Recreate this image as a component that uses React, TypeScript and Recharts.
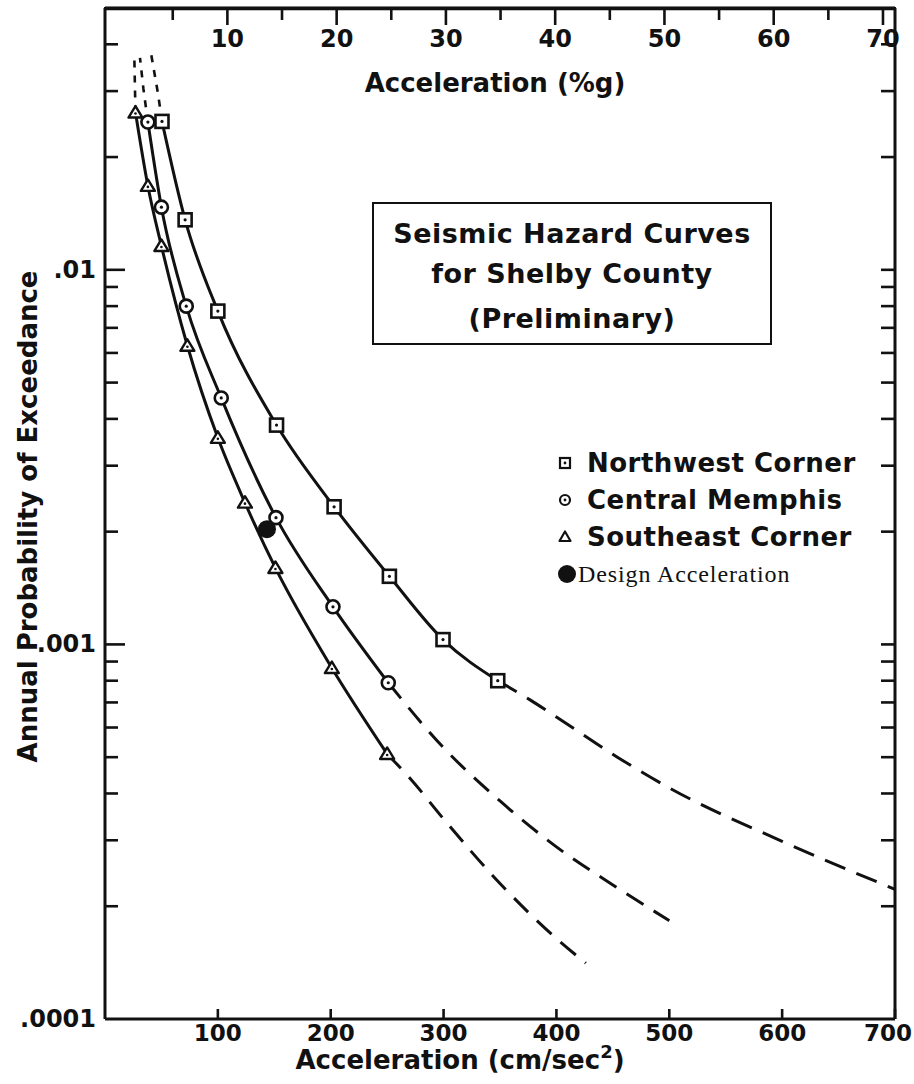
import React from 'react';
import { ComposedChart, Line, Scatter, XAxis, YAxis, Legend, Label, ReferenceLine } from 'recharts';

// ---------- data ----------
const nwX = [50.5, 71, 100, 152, 203, 252, 299.5, 348];
const nwY = [0.0249, 0.0136, 0.00776, 0.00385, 0.00233, 0.00152, 0.00103, 0.0008];
const nwDashX = [348, 377, 400, 454, 500, 600, 700];
const nwDashY = [0.0008, 0.00071, 0.00064, 0.0005, 0.000414, 0.000298, 0.000222];
const nwTopX = [50.5, 47, 41];
const nwTopY = [0.0249, 0.0295, 0.0375];

const cmX = [38, 50, 72, 103, 151.5, 202, 251];
const cmY = [0.0248, 0.0147, 0.008, 0.00455, 0.00218, 0.00126, 0.00079];
const cmDashX = [251, 300, 350, 400, 450, 500];
const cmDashY = [0.00079, 0.00053, 0.000382, 0.000288, 0.000228, 0.000183];
const cmTopX = [38, 34, 31];
const cmTopY = [0.0248, 0.0305, 0.0368];

const seX = [27, 38, 50, 73, 100, 124, 151, 201, 250];
const seY = [0.0263, 0.01675, 0.01158, 0.00627, 0.00356, 0.00239, 0.0016, 0.000865, 0.00051];
const seDashX = [250, 270, 300, 350, 400, 426];
const seDashY = [0.00051, 0.00044, 0.000342, 0.00023, 0.000164, 0.000141];
const seTopX = [27, 26.5, 26];
const seTopY = [0.0263, 0.031, 0.0368];

const designX = [143.5];
const designY = [0.00203];

// axes
const xDomain = [0, 700];
const yDomain = [0.0001, 0.05];
const topDomain = [-1.2, 71.1];
const bottomTicks = [100, 200, 300, 400, 500, 600, 700];
const topTicks = [5, 10, 15, 20, 25, 30, 35, 40, 45, 50, 55, 60, 65, 70];
const topLabelTicks = [10, 20, 30, 40, 50, 60, 70];
const yTicks = [
  0.0002, 0.0003, 0.0004, 0.0005, 0.0006, 0.0007, 0.0008, 0.0009,
  0.001, 0.002, 0.003, 0.004, 0.005, 0.006, 0.007, 0.008, 0.009,
  0.01, 0.02, 0.03, 0.04,
];
const yLabelValues = [0.0001, 0.001, 0.01];
const yLabelTexts = ['.0001', '.001', '.01'];

const seriesNames = ['Northwest Corner', 'Central Memphis', 'Southeast Corner', 'Design Acceleration'];

// ---------- helpers ----------
const zip = (xs: number[], ys: number[]) => xs.map((x, i) => ({ x, y: ys[i] }));

const nwData = zip(nwX, nwY);
const nwDash = zip(nwDashX, nwDashY);
const nwTop = zip(nwTopX, nwTopY);
const cmData = zip(cmX, cmY);
const cmDash = zip(cmDashX, cmDashY);
const cmTop = zip(cmTopX, cmTopY);
const seData = zip(seX, seY);
const seDash = zip(seDashX, seDashY);
const seTop = zip(seTopX, seTopY);
const designData = zip(designX, designY);
// invisible anchor series so the top/right frame axes get rendered
const topAnchor = [{ x: 5, y: 0.01 }, { x: 70, y: 0.01 }];

const FONT = '"DejaVu Sans", "Liberation Sans", Arial, sans-serif';
const SERIF = '"Liberation Serif", "DejaVu Serif", serif';
const INK = '#111';

// ---------- markers ----------
const SquareDot = (p: any) => {
  const { cx, cy } = p;
  if (cx == null || cy == null) return <g />;
  return (
    <g>
      <rect x={cx - 6.5} y={cy - 6.5} width={13} height={13} fill="#fff" stroke={INK} strokeWidth={2.6} />
      <circle cx={cx} cy={cy} r={1.6} fill={INK} />
    </g>
  );
};
const CircleDot = (p: any) => {
  const { cx, cy } = p;
  if (cx == null || cy == null) return <g />;
  return (
    <g>
      <circle cx={cx} cy={cy} r={6.5} fill="#fff" stroke={INK} strokeWidth={2.6} />
      <circle cx={cx} cy={cy} r={1.6} fill={INK} />
    </g>
  );
};
const TriangleDot = (p: any) => {
  const { cx, cy } = p;
  if (cx == null || cy == null) return <g />;
  return (
    <g>
      <polygon
        points={`${cx},${cy - 6.5} ${cx + 7},${cy + 5} ${cx - 7},${cy + 5}`}
        fill="#fff"
        stroke={INK}
        strokeWidth={2.4}
        strokeLinejoin="round"
      />
      <circle cx={cx} cy={cy + 1} r={1.3} fill={INK} />
    </g>
  );
};
const BigDot = (p: any) => {
  const { cx, cy } = p;
  if (cx == null || cy == null) return <g />;
  return <circle cx={cx} cy={cy} r={9} fill={INK} />;
};

// ---------- ticks ----------
const LeftTick = (p: any) => {
  const { x, y, payload } = p;
  const v = payload.value;
  const idx = yLabelValues.findIndex((t) => Math.abs(t - v) < t * 1e-6);
  const major = idx >= 0;
  return (
    <g>
      {v !== 0.0001 && (
        <line x1={x} x2={x + (major ? 20 : 13)} y1={y} y2={y} stroke={INK} strokeWidth={2.6} />
      )}
      {major && (
        <text
          x={x - 9}
          y={y}
          textAnchor="end"
          dominantBaseline="central"
          fontFamily={FONT}
          fontWeight="bold"
          fontSize={24}
          fill={INK}
        >
          {yLabelTexts[idx]}
        </text>
      )}
    </g>
  );
};

const RightTick = (p: any) => {
  const { x, y } = p;
  return <line x1={x} x2={x - 14} y1={y} y2={y} stroke={INK} strokeWidth={2.6} />;
};

const TopTick = (p: any) => {
  const { x, y, payload } = p;
  const v = payload.value;
  const major = topLabelTicks.includes(v);
  return (
    <g>
      <line x1={x} x2={x} y1={y} y2={y + (major ? 17 : 12)} stroke={INK} strokeWidth={2.6} />
      {major && (
        <text
          x={x}
          y={y + 31}
          textAnchor="middle"
          dominantBaseline="central"
          fontFamily={FONT}
          fontWeight="bold"
          fontSize={24}
          fill={INK}
        >
          {v}
        </text>
      )}
    </g>
  );
};

const BottomTick = (p: any) => {
  const { x, y, payload } = p;
  const last = payload.value === bottomTicks[bottomTicks.length - 1];
  return (
    <g>
      <line x1={x} x2={x} y1={y} y2={y - 10} stroke={INK} strokeWidth={2.6} />
      <text
        x={last ? x + 17 : x}
        y={y + 14}
        textAnchor={last ? 'end' : 'middle'}
        dominantBaseline="central"
        fontFamily={FONT}
        fontWeight="bold"
        fontSize={23}
        fill={INK}
      >
        {payload.value}
      </text>
    </g>
  );
};

// ---------- axis titles ----------
const BottomTitle = (p: any) => {
  const vb = p.viewBox || { x: 0, y: 0, width: 0 };
  return (
    <text
      x={vb.x + vb.width / 2 - 40}
      y={vb.y + 50}
      textAnchor="middle"
      fontFamily={FONT}
      fontWeight="bold"
      fontSize={26}
      fill={INK}
    >
      Acceleration (cm/sec
      <tspan dy={-11} fontSize={18}>2</tspan>
      <tspan dy={11}>)</tspan>
    </text>
  );
};

const TopTitle = (p: any) => {
  const vb = p.viewBox || { x: 0, y: 0, width: 0 };
  return (
    <text
      x={vb.x + vb.width / 2 - 5}
      y={vb.y + 76}
      textAnchor="middle"
      dominantBaseline="central"
      fontFamily={FONT}
      fontWeight="bold"
      fontSize={26}
      fill={INK}
    >
      Acceleration (%g)
    </text>
  );
};

const LeftTitle = (p: any) => {
  const vb = p.viewBox || { x: 0, y: 0, height: 0 };
  const cx = vb.x + 28;
  const cy = vb.y + vb.height / 2 + 3;
  return (
    <text
      x={cx}
      y={cy}
      textAnchor="middle"
      dominantBaseline="central"
      transform={`rotate(-90 ${cx} ${cy})`}
      fontFamily={FONT}
      fontWeight="bold"
      fontSize={26}
      fill={INK}
    >
      Annual Probability of Exceedance
    </text>
  );
};

// ---------- legend ----------
const LegendIcon = ({ kind }: { kind: number }) => (
  <svg width={22} height={22} style={{ display: 'inline-block', verticalAlign: 'middle' }}>
    {kind === 0 && (
      <g>
        <rect x={6} y={6} width={10} height={10} fill="#fff" stroke={INK} strokeWidth={2.2} />
        <circle cx={11} cy={11} r={1.4} fill={INK} />
      </g>
    )}
    {kind === 1 && (
      <g>
        <circle cx={11} cy={11} r={5} fill="#fff" stroke={INK} strokeWidth={2.2} />
        <circle cx={11} cy={11} r={1.4} fill={INK} />
      </g>
    )}
    {kind === 2 && (
      <g>
        <polygon points="11,5.5 16.5,15 5.5,15" fill="#fff" stroke={INK} strokeWidth={2.2} strokeLinejoin="round" />
      </g>
    )}
    {kind === 3 && <circle cx={13} cy={11} r={9} fill={INK} />}
  </svg>
);

const LegendContent = () => (
  <div style={{ color: INK }}>
    {seriesNames.map((name, i) => (
      <div key={name} style={{ height: 37, lineHeight: '37px', whiteSpace: 'nowrap' }}>
        <LegendIcon kind={i} />
        <span
          style={{
            marginLeft: i === 3 ? 2 : 11,
            fontFamily: i === 3 ? SERIF : FONT,
            fontWeight: i === 3 ? 'normal' : 'bold',
            fontSize: i === 3 ? 24 : 26,
            letterSpacing: i === 3 ? 0.9 : 0.5,
            verticalAlign: 'middle',
          }}
        >
          {name}
        </span>
      </div>
    ))}
  </div>
);

// ---------- title box ----------
const titleLines = ['Seismic Hazard Curves', 'for Shelby County', '(Preliminary)'];
const titleLineTops = [30, 70, 115];

const TitleBox = () => (
  <div
    style={{
      position: 'absolute',
      left: 372,
      top: 202,
      width: 400,
      height: 143,
      border: `2.5px solid ${INK}`,
      boxSizing: 'border-box',
      background: '#fff',
      fontFamily: FONT,
      fontWeight: 'bold',
      fontSize: 27,
      letterSpacing: 0.5,
      color: INK,
    }}
  >
    {titleLines.map((t, i) => (
      <div
        key={t}
        style={{
          position: 'absolute',
          left: 0,
          width: '100%',
          top: titleLineTops[i] - 18,
          height: 36,
          lineHeight: '36px',
          textAlign: 'center',
        }}
      >
        {t}
      </div>
    ))}
  </div>
);

export default function App() {
  return (
    <div style={{ position: 'absolute', left: 0, top: 0, width: 914, height: 1084, background: '#fff' }}>
      <ComposedChart width={914} height={1084} margin={{ top: 7, right: 18, bottom: 0, left: 0 }}>
        <XAxis
          xAxisId="bottom"
          type="number"
          dataKey="x"
          domain={xDomain}
          ticks={bottomTicks}
          interval={0}
          height={65}
          tickSize={0}
          tickMargin={0}
          tick={<BottomTick />}
          axisLine={{ stroke: INK, strokeWidth: 3 }}
          tickLine={false}
          allowDataOverflow
        >
          <Label content={<BottomTitle />} />
        </XAxis>
        <XAxis
          xAxisId="top"
          orientation="top"
          type="number"
          dataKey="x"
          domain={topDomain}
          ticks={topTicks}
          interval={0}
          height={1}
          tickSize={0}
          tickMargin={0}
          tick={<TopTick />}
          axisLine={{ stroke: '#000', strokeWidth: 3.2 }}
          tickLine={false}
        >
          <Label content={<TopTitle />} />
        </XAxis>
        <YAxis
          yAxisId="left"
          scale="log"
          type="number"
          domain={yDomain}
          ticks={[0.0001, ...yTicks]}
          interval={0}
          width={105}
          tickSize={0}
          tickMargin={0}
          tick={<LeftTick />}
          axisLine={{ stroke: INK, strokeWidth: 3 }}
          tickLine={false}
          allowDataOverflow
        >
          <Label content={<LeftTitle />} />
        </YAxis>
        <YAxis
          yAxisId="right"
          orientation="right"
          scale="log"
          type="number"
          domain={yDomain}
          ticks={yTicks}
          interval={0}
          width={1}
          tickSize={0}
          tickMargin={0}
          tick={<RightTick />}
          axisLine={{ stroke: INK, strokeWidth: 3 }}
          tickLine={false}
          allowDataOverflow
        />

        {/* top frame edge */}
        <ReferenceLine xAxisId="bottom" yAxisId="left" y={0.0498} stroke="#000" strokeWidth={3} ifOverflow="visible" />

        {/* invisible series bound to the top / right frame axes */}
        <Line xAxisId="top" yAxisId="right" data={topAnchor} dataKey="y" stroke="none" dot={false} activeDot={false} isAnimationActive={false} legendType="none" />

        {/* dashed extensions */}
        <Line xAxisId="bottom" yAxisId="left" data={nwDash} dataKey="y" type="monotone" stroke={INK} strokeWidth={3} strokeDasharray="22 12" dot={false} isAnimationActive={false} legendType="none" />
        <Line xAxisId="bottom" yAxisId="left" data={cmDash} dataKey="y" type="monotone" stroke={INK} strokeWidth={3} strokeDasharray="20 12" dot={false} isAnimationActive={false} legendType="none" />
        <Line xAxisId="bottom" yAxisId="left" data={seDash} dataKey="y" type="monotone" stroke={INK} strokeWidth={3} strokeDasharray="20 12" dot={false} isAnimationActive={false} legendType="none" />
        <Line xAxisId="bottom" yAxisId="left" data={nwTop} dataKey="y" type="linear" stroke={INK} strokeWidth={2.6} strokeDasharray="7 8" dot={false} isAnimationActive={false} legendType="none" />
        <Line xAxisId="bottom" yAxisId="left" data={cmTop} dataKey="y" type="linear" stroke={INK} strokeWidth={2.6} strokeDasharray="7 8" dot={false} isAnimationActive={false} legendType="none" />
        <Line xAxisId="bottom" yAxisId="left" data={seTop} dataKey="y" type="linear" stroke={INK} strokeWidth={2.6} strokeDasharray="7 8" dot={false} isAnimationActive={false} legendType="none" />

        {/* solid curves with markers */}
        <Line xAxisId="bottom" yAxisId="left" name={seriesNames[0]} data={nwData} dataKey="y" type="monotone" stroke={INK} strokeWidth={3} dot={<SquareDot />} isAnimationActive={false} />
        <Line xAxisId="bottom" yAxisId="left" name={seriesNames[1]} data={cmData} dataKey="y" type="monotone" stroke={INK} strokeWidth={3} dot={<CircleDot />} isAnimationActive={false} />
        <Line xAxisId="bottom" yAxisId="left" name={seriesNames[2]} data={seData} dataKey="y" type="monotone" stroke={INK} strokeWidth={3} dot={<TriangleDot />} isAnimationActive={false} />
        <Scatter xAxisId="bottom" yAxisId="left" name={seriesNames[3]} data={designData} dataKey="y" fill={INK} shape={<BigDot />} isAnimationActive={false} />

        <Legend
          layout="horizontal"
          verticalAlign="middle"
          align="center"
          content={<LegendContent />}
          wrapperStyle={{ position: 'absolute', left: 554, top: 443, width: 330, height: 150 }}
        />
      </ComposedChart>
      {/* top edge of the plot frame (fallback overlay) */}
      <div style={{ position: 'absolute', left: 104, top: 6.5, width: 792, height: 3, background: INK }} />
      <TitleBox />
    </div>
  );
}
